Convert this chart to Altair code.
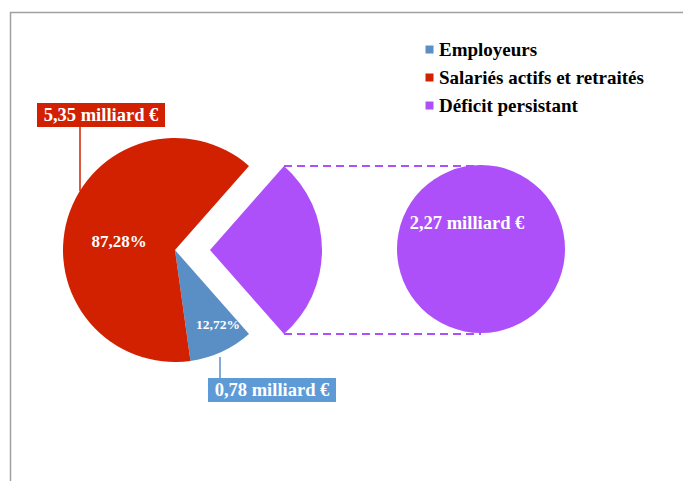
import math
import altair as alt
import pandas as pd

# ---- data ----
categories = ["Employeurs", "Salariés actifs et retraités", "Déficit persistant"]
values = [0.78, 5.35, 2.27]          # milliards €
colors = ["#5a8fc6", "#d22100", "#ae50fa"]
box_colors = ["#5e9bd6", "#d22100", "#ae50fa"]
stack_order = [1, 2, 0]              # clockwise order starting at the exploded slice

total = sum(values)
funded = values[0] + values[1]

def eur(v):
    return f"{v:.2f}".replace(".", ",") + " milliard €"

def pct(v):
    return f"{100 * v / funded:.2f}".replace(".", ",") + "%"

df = pd.DataFrame({"cat": categories, "value": values, "order": stack_order})

# ---- layout ----
W, H = 683, 481
cx, cy, R = 175, 250, 112
explode = 35
bx, by, r2 = 481, 249, 84
FONT = "Liberation Serif"

def_frac = values[2] / total
a0 = math.pi / 2 - def_frac * math.pi      # exploded slice centred on 3 o'clock
theta_scale = alt.Scale(domain=[0, total], range=[a0, a0 + 2 * math.pi])

color = alt.Color(
    "cat:N",
    scale=alt.Scale(domain=categories, range=colors),
    legend=alt.Legend(
        title=None, orient="none", legendX=420, legendY=40,
        symbolType="square", symbolSize=64, symbolStrokeWidth=0,
        labelFont=FONT, labelFontSize=19, labelFontWeight="bold",
        labelColor="black", rowPadding=8, labelOffset=0, labelLimit=400,
    ),
)

base = alt.Chart(df).transform_stack(
    stack="value", groupby=[], as_=["v0", "v1"],
    sort=[alt.SortField(field="order", order="ascending")],
)

pie = base.transform_filter(alt.datum.cat != categories[2]).mark_arc(radius=R).encode(
    theta=alt.Theta("v0:Q", scale=theta_scale), theta2="v1:Q",
    color=color, x=alt.value(cx), y=alt.value(cy),
)
slice_out = base.transform_filter(alt.datum.cat == categories[2]).mark_arc(radius=R).encode(
    theta=alt.Theta("v0:Q", scale=theta_scale), theta2="v1:Q",
    color=color, x=alt.value(cx + explode), y=alt.value(cy),
)
big = base.transform_filter(alt.datum.cat == categories[2]).mark_arc(
    radius=r2, theta=0, theta2=2 * math.pi
).encode(color=color, x=alt.value(bx), y=alt.value(by))

one = alt.Data(values=[{"k": 1}])

# dashed connectors
sx = cx + explode + R * math.sin(a0)
sy_top = cy - R * math.cos(a0)
sy_bot = cy + R * math.cos(a0)
dash_top = alt.Chart(one).mark_rule(color=colors[2], strokeWidth=2, strokeDash=[8, 5]).encode(
    x=alt.value(sx), x2=alt.value(bx), y=alt.value(sy_top))
dash_bot = alt.Chart(one).mark_rule(color=colors[2], strokeWidth=2, strokeDash=[8, 5]).encode(
    x=alt.value(sx), x2=alt.value(bx), y=alt.value(sy_bot))

# frame
frame = alt.Chart(one).mark_rect(fillOpacity=0, stroke="#a0a0a0", strokeWidth=1.5).encode(
    x=alt.value(10.5), x2=alt.value(W + 20), y=alt.value(12.5), y2=alt.value(H + 20))

# leader lines
lead_red = alt.Chart(one).mark_rule(color=colors[1], strokeWidth=1.5).encode(
    x=alt.value(80), y=alt.value(127), y2=alt.value(191))
lead_blue = alt.Chart(one).mark_rule(color=colors[0], strokeWidth=1.5).encode(
    x=alt.value(220), y=alt.value(357), y2=alt.value(378))

# label boxes
box_red = alt.Chart(one).mark_rect(color=box_colors[1]).encode(
    x=alt.value(37), x2=alt.value(165), y=alt.value(103), y2=alt.value(127))
box_blue = alt.Chart(one).mark_rect(color=box_colors[0]).encode(
    x=alt.value(208), x2=alt.value(336), y=alt.value(378), y2=alt.value(402))

def label(txt, x, y, size):
    return alt.Chart(alt.Data(values=[{"t": txt}])).mark_text(
        font=FONT, fontSize=size, fontWeight="bold", color="white",
        align="center", baseline="middle",
    ).encode(text="t:N", x=alt.value(x), y=alt.value(y))

t_red = label(eur(values[1]), 101, 115, 18.5)
t_blue = label(eur(values[0]), 272, 390, 18.5)
t_big = label(eur(values[2]), 467, 223, 18.5)
t_pr = label(pct(values[1]), 119, 242, 17)
t_pb = label(pct(values[0]), 218, 325, 13.5)

chart = alt.layer(
    frame, dash_top, dash_bot, pie, slice_out, big,
    lead_red, lead_blue, box_red, box_blue,
    t_red, t_blue, t_big, t_pr, t_pb,
).properties(
    width=W, height=H, padding=0, autosize="none", background="white"
).configure_view(stroke=None)

chart.save("out.html", embed_options={"renderer": "svg", "actions": False})
